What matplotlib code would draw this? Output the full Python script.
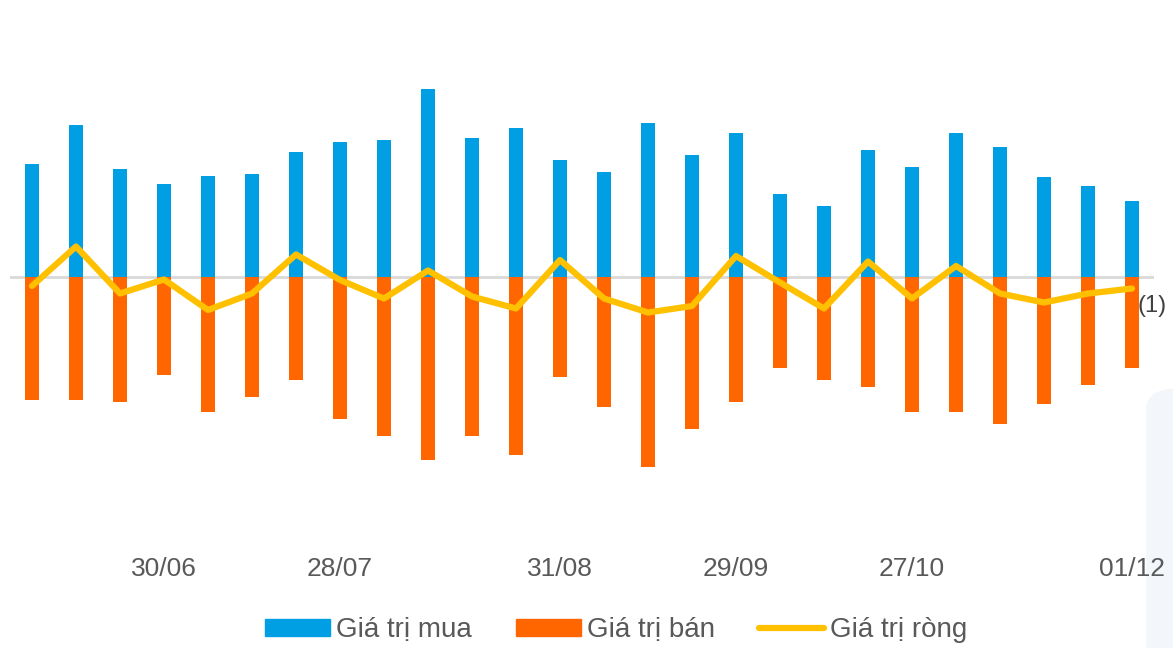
import numpy as np
import matplotlib
matplotlib.use("Agg")
from matplotlib import pyplot as plt
from matplotlib.patches import Patch, FancyBboxPatch
from matplotlib.lines import Line2D

plt.rcParams['font.family'] = ['Liberation Sans', 'DejaVu Sans']

# weekly values
tick_labels = ['', '', '', '30/06', '', '', '', '28/07', '', '', '', '', '31/08',
               '', '', '', '29/09', '', '', '', '27/10', '', '', '', '', '01/12']
buy = [112.5, 151.5, 107.5, 93, 100.5, 102.5, 124.5, 134.5, 136.5, 187.5, 139, 148.5, 117,
       105, 154, 122, 144, 83, 71, 127, 110, 144, 129.5, 100, 90.5, 76]
sell = [-123, -123, -125, -98.5, -135, -120, -103, -142, -159, -183, -159, -178, -100.5,
        -130, -190.5, -152, -125, -91, -103, -110, -135, -135, -147, -127.5, -108, -91]
net = [-9.5, 30, -17, -3, -33.5, -17, 22, -3.5, -22, 6, -20, -32, 16.5,
       -22, -36, -29.5, 20.5, -6, -32, 15, -22, 10.5, -17, -26, -17, -12]
last_label = "(1)"

c_buy = '#009FE3'
c_sell = '#FF6600'
c_net = '#FFC000'
grey = '#595959'

fig = plt.figure(figsize=(11.73, 6.48), dpi=100)

# faint watermark shape at bottom right, behind everything
fig.patches.append(FancyBboxPatch((1147 / 1173, -0.1), 0.2, 0.5, boxstyle='round,pad=0,rounding_size=0.03',
                                  transform=fig.transFigure, color='#F3F6FA', zorder=-5))

ax = fig.add_axes([10 / 1173, 1 - 520 / 648, 1144 / 1173, 480 / 648])
ax.set_zorder(1)

x = np.arange(len(buy))
ax.bar(x, buy, width=0.33, color=c_buy, zorder=2)
ax.bar(x, sell, width=0.33, color=c_sell, zorder=2)
ax.axhline(0, color='#D9D9D9', lw=2, zorder=1)
ax.plot(x, net, color=c_net, lw=4.5, solid_joinstyle='round', solid_capstyle='round', zorder=3)
ax.annotate(last_label, (x[-1], net[-1]), xytext=(4, -5), textcoords='offset points',
            ha='left', va='top', fontsize=17, color='#404040', annotation_clip=False)

ax.set_xlim(-0.5, 25.5)
ax.set_ylim(-243.5, 236.5)
ax.set_xticks(x)
ax.set_xticklabels(tick_labels, fontsize=19, color=grey)
ax.tick_params(axis='x', length=0, pad=27)
ax.set_yticks([])
for s in ax.spines.values():
    s.set_visible(False)
ax.patch.set_alpha(0)

handles = [Patch(color=c_buy), Patch(color=c_sell), Line2D([], [], color=c_net, lw=4.5, solid_capstyle='round')]
leg = fig.legend(handles, ['Giá trị mua', 'Giá trị bán', 'Giá trị ròng'], loc='center',
                 bbox_to_anchor=(616 / 1173, 1 - 630 / 648), ncol=3, frameon=False,
                 fontsize=20, labelcolor=grey, handlelength=2.35, handleheight=0.55,
                 handletextpad=0.2, columnspacing=1.6)
leg.set_zorder(2)

fig.savefig('out.png', dpi=100)
